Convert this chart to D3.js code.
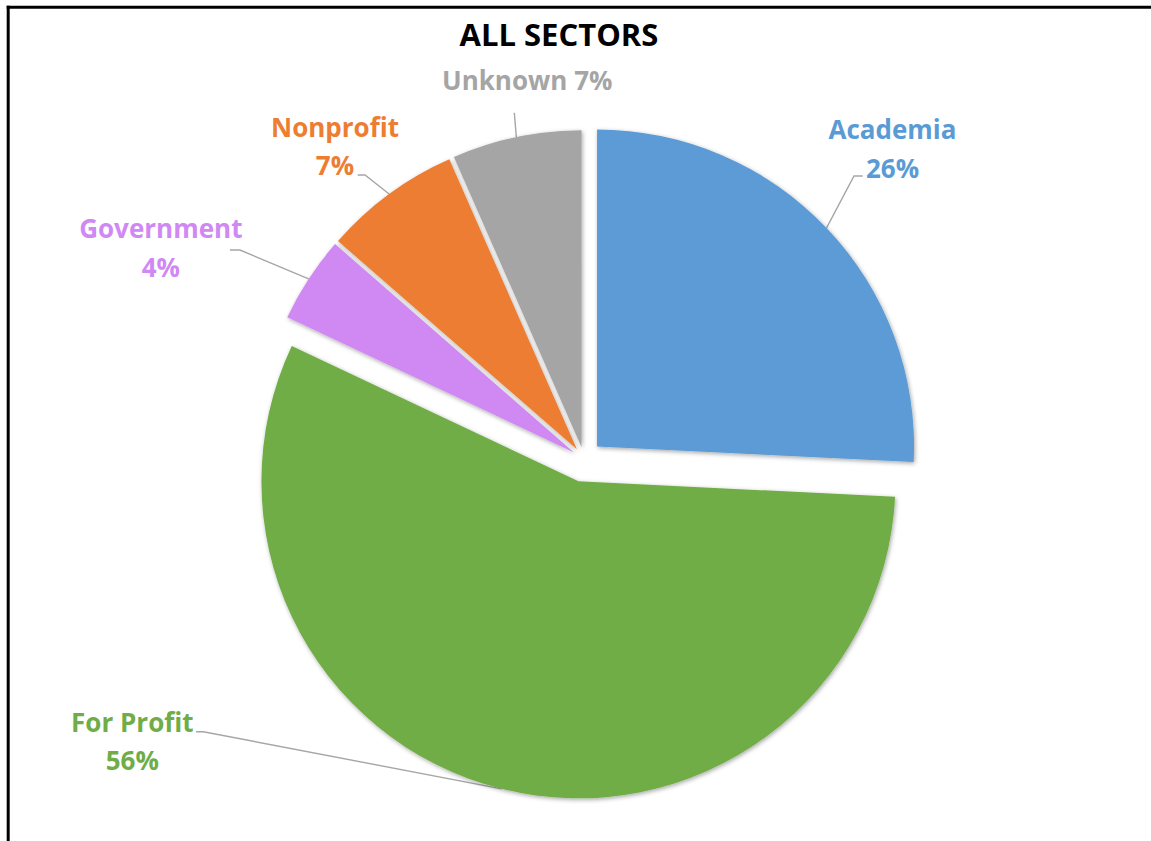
<!DOCTYPE html>
<html>
<head>
<meta charset="utf-8">
<script src="https://cdn.jsdelivr.net/npm/d3@7"></script>
<style>
  body { margin: 0; background: #fff; }
  svg { display: block; font-family: "Open Sans", "DejaVu Sans", sans-serif; }
</style>
</head>
<body>
<svg id="chart" width="1151" height="841"></svg>
<script>
// chart data
const sectors = ["Academia", "For Profit", "Government", "Nonprofit", "Unknown"];
const shares = [25.8, 56.3, 4.4, 7.0, 6.6];
const sectorColors = ["#5B9BD5", "#70AD47", "#D089F3", "#ED7D31", "#A5A5A5"];

// how far each slice is pulled out of the pie (px)
const explode = [18, 23, 12, 12, 12];

// label placement relative to the pie centre
// tx, ty = text centre / first baseline ; sx, sy = leader start ; ex = elbow x
const labelSpots = [
  { tx: 308.5, ty: -320, sx: 278.7, sy: -283, ex: 270, twoLines: true },
  { tx: -451.7, ty: 272.7, sx: -388, sy: 272.7, ex: -380.7, twoLines: true },
  { tx: -423.2, ty: -220.7, sx: -354, sy: -209, ex: -344, twoLines: true },
  { tx: -249, ty: -322.3, sx: -226.3, sy: -284, ex: -219, twoLines: true },
  { tx: -56.8, ty: -369, sx: -69.7, sy: -346.3, ex: -69.7, twoLines: false }
];

const cx = 584, cy = 459, radius = 317;

const svg = d3.select("#chart");

// frame, Excel chart area got cropped so only top + left show
svg.append("line")
  .attr("x1", 6.7).attr("x2", 1151).attr("y1", 7.2).attr("y2", 7.2)
  .attr("stroke", "#000").attr("stroke-width", 3);
svg.append("line")
  .attr("x1", 8.2).attr("x2", 8.2).attr("y1", 5.7).attr("y2", 841)
  .attr("stroke", "#000").attr("stroke-width", 3);

svg.append("text")
  .attr("x", 559).attr("y", 45.7)
  .attr("text-anchor", "middle")
  .attr("font-size", 31).attr("font-weight", 700)
  .attr("fill", "#000")
  .text("ALL SECTORS");

const defs = svg.append("defs");
defs.append("filter")
  .attr("id", "shadow")
  .attr("x", "-20%").attr("y", "-20%").attr("width", "140%").attr("height", "140%")
  .append("feDropShadow")
    .attr("dx", 1).attr("dy", 1.5)
    .attr("stdDeviation", 2)
    .attr("flood-color", "#000")
    .attr("flood-opacity", 0.35);

const rows = sectors.map(function(s, i){
  return { name: s, value: shares[i], color: sectorColors[i], pull: explode[i], spot: labelSpots[i] };
});

const pie = d3.pie().sort(null).value(function(d){ return d.value; });
const arc = d3.arc().innerRadius(0).outerRadius(radius);
const rim = d3.arc().innerRadius(radius).outerRadius(radius);

const arcs = pie(rows);

function shift(d){
  let mid = (d.startAngle + d.endAngle) / 2;
  return [d.data.pull * Math.sin(mid), -d.data.pull * Math.cos(mid)];
}

const g = svg.append("g").attr("transform", "translate(" + cx + "," + cy + ")");

// leader lines
g.selectAll("path.leader")
  .data(arcs).enter()
  .append("path")
    .attr("class", "leader")
    .attr("fill", "none")
    .attr("stroke", "#A6A6A6")
    .attr("stroke-width", 1.4)
    .attr("d", function(d){
      let s = d.data.spot;
      let o = shift(d);
      let p = rim.centroid(d);
      return d3.line()([[s.sx, s.sy], [s.ex, s.sy], [p[0] + o[0], p[1] + o[1]]]);
    });

// slices
g.selectAll("path.slice")
  .data(arcs).enter()
  .append("path")
    .attr("class", "slice")
    .attr("transform", function(d){ return "translate(" + shift(d) + ")"; })
    .attr("d", arc)
    .attr("fill", function(d){ return d.data.color; })
    .attr("filter", "url(#shadow)");

// labels
const labels = g.selectAll("text.label")
  .data(arcs).enter()
  .append("text")
    .attr("class", "label")
    .attr("text-anchor", "middle")
    .attr("font-size", 26)
    .attr("font-weight", 700)
    .attr("fill", function(d){ return d.data.color; });

labels.each(function(d){
  let t = d3.select(this);
  let s = d.data.spot;
  let pct = Math.round(d.data.value) + "%";
  if (s.twoLines) {
    t.append("tspan").attr("x", s.tx).attr("y", s.ty).text(d.data.name);
    t.append("tspan").attr("x", s.tx).attr("y", s.ty + 38.5).text(pct);
  } else {
    t.append("tspan").attr("x", s.tx).attr("y", s.ty).text(d.data.name + " " + pct);
  }
});
</script>
</body>
</html>
